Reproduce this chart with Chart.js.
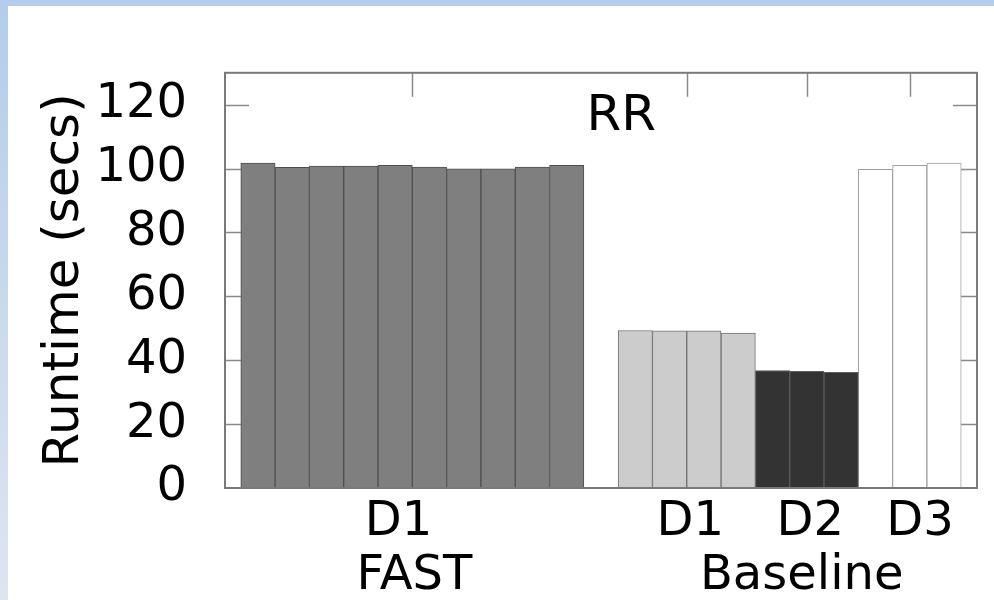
<!DOCTYPE html>
<html>
<head>
<meta charset="utf-8">
<script src="https://cdn.jsdelivr.net/npm/chart.js@4.4.0/dist/chart.umd.min.js"></script>
<style>
  body { margin: 0; width: 994px; height: 600px; overflow: hidden;
    background: linear-gradient(to bottom, #b3cdea, #dfe5ef); }
  #wrap { position: absolute; left: 8px; top: 6px; width: 986px; height: 594px; background: #fff; }
</style>
</head>
<body>
<div id="wrap"><canvas id="runtimeChart" width="986" height="594"></canvas></div>
<script>
// runtimes (secs)
const fastD1 = [101.7, 100.4, 100.8, 100.8, 101.0, 100.5, 99.9, 99.9, 100.5, 101.0];
const baseD1 = [49.3, 49.2, 49.2, 48.5];
const baseD2 = [36.8, 36.5, 36.2];
const baseD3 = [99.8, 101.0, 101.7];

const yTicks = [0, 20, 40, 60, 80, 100, 120];
const groupNames = ["D1", "D1", "D2", "D3"];
const sideNames = ["FAST", "Baseline"];
const panelTitle = "RR";

const FONT = "'DejaVu Sans', sans-serif";

// bar slots: FAST first, one empty slot, then the baseline groups
function slots(values, start) {
  return values.map((v, i) => ({ x: start + i, y: v }));
}
const fastData = slots(fastD1, 0);
const d1Data = slots(baseD1, fastD1.length + 1);
const d2Data = slots(baseD2, d1Data[d1Data.length - 1].x + 1);
const d3Data = slots(baseD3, d2Data[d2Data.length - 1].x + 1);

const mid = pts => (pts[0].x + pts[pts.length - 1].x) / 2;
const groupCenters = [fastData, d1Data, d2Data, d3Data].map(mid);

// where the labels sit (slightly off the group centres, as in the original)
const groupLabelPos = [4.1, 12.6, 16.1, 19.3];
const sideLabelPos = [4.56, 15.85];

const xMin = -0.96, xMax = 20.96;

const frameAndTicks = {
  id: "frameAndTicks",
  beforeDatasetsDraw(chart) {
    const { ctx, chartArea: a, scales } = chart;
    ctx.save();
    ctx.strokeStyle = "#8a8a8a";
    ctx.lineWidth = 1.5;
    ctx.beginPath();
    yTicks.forEach(v => {
      if (v === 0) return;
      const y = Math.round(scales.y.getPixelForValue(v)) + 0.5;
      ctx.moveTo(a.left, y); ctx.lineTo(a.left + 24, y);
      ctx.moveTo(a.right - 24, y); ctx.lineTo(a.right, y);
    });
    groupCenters.forEach(c => {
      const x = Math.round(scales.x.getPixelForValue(c)) + 0.5;
      ctx.moveTo(x, a.top); ctx.lineTo(x, a.top + 24);
      ctx.moveTo(x, a.bottom); ctx.lineTo(x, a.bottom - 24);
    });
    ctx.stroke();
    ctx.restore();
  },
  afterDatasetsDraw(chart) {
    const { ctx, chartArea: a } = chart;
    ctx.save();
    ctx.strokeStyle = "#7a7a7a";
    ctx.lineWidth = 2;
    ctx.strokeRect(a.left, a.top, a.right - a.left, a.bottom - a.top);
    ctx.fillStyle = "#000";
    ctx.font = "50px " + FONT;
    ctx.textAlign = "center";
    ctx.textBaseline = "alphabetic";
    ctx.fillText(panelTitle, a.left + 0.527 * (a.right - a.left), a.top + 57);
    ctx.restore();
  }
};

const tickFont = { family: FONT, size: 48 };

new Chart(document.getElementById("runtimeChart").getContext("2d"), {
  type: "bar",
  data: {
    datasets: [
      { label: "FAST D1", data: fastData, backgroundColor: "#7f7f7f", borderColor: "#4f4f4f", borderWidth: 1 },
      { label: "Baseline D1", data: d1Data, backgroundColor: "#cccccc", borderColor: "#737373", borderWidth: 1 },
      { label: "Baseline D2", data: d2Data, backgroundColor: "#333333", borderColor: "#5c5c5c", borderWidth: 1 },
      { label: "Baseline D3", data: d3Data, backgroundColor: "#ffffff", borderColor: "#a0a0a0", borderWidth: 1 }
    ]
  },
  options: {
    responsive: false,
    animation: false,
    grouped: false,
    barPercentage: 1,
    categoryPercentage: 1,
    layout: { padding: { left: 0, top: 66, right: 17, bottom: 0 } },
    plugins: { legend: { display: false }, tooltip: { enabled: false } },
    scales: {
      x: {
        type: "linear", position: "bottom", weight: 0,
        min: xMin, max: xMax, offset: false,
        grid: { display: false, drawTicks: false }, border: { display: false },
        afterBuildTicks: s => { s.ticks = groupLabelPos.map(v => ({ value: v })); },
        ticks: { autoSkip: false, maxRotation: 0, padding: 6, font: tickFont, color: "#000",
          callback: (v, i) => groupNames[i] },
        afterFit: s => { s.height = 55; }
      },
      x2: {
        type: "linear", position: "bottom", weight: 1,
        min: xMin, max: xMax, offset: false,
        grid: { display: false, drawTicks: false }, border: { display: false },
        afterBuildTicks: s => { s.ticks = sideLabelPos.map(v => ({ value: v })); },
        ticks: { autoSkip: false, maxRotation: 0, padding: 5, font: tickFont, color: "#000",
          callback: (v, i) => sideNames[i] },
        afterFit: s => { s.height = 57; }
      },
      y: {
        min: 0, max: 130,
        grid: { display: false, drawTicks: false }, border: { display: false },
        afterBuildTicks: s => { s.ticks = yTicks.map(v => ({ value: v })); },
        ticks: { padding: 38, font: tickFont, color: "#000" },
        title: { display: true, text: "Runtime (secs)", color: "#000",
          font: { family: FONT, size: 50 }, padding: { top: 27, bottom: 0 } },
        afterFit: s => { s.width = 217; }
      }
    }
  },
  plugins: [frameAndTicks]
});
</script>
</body>
</html>
